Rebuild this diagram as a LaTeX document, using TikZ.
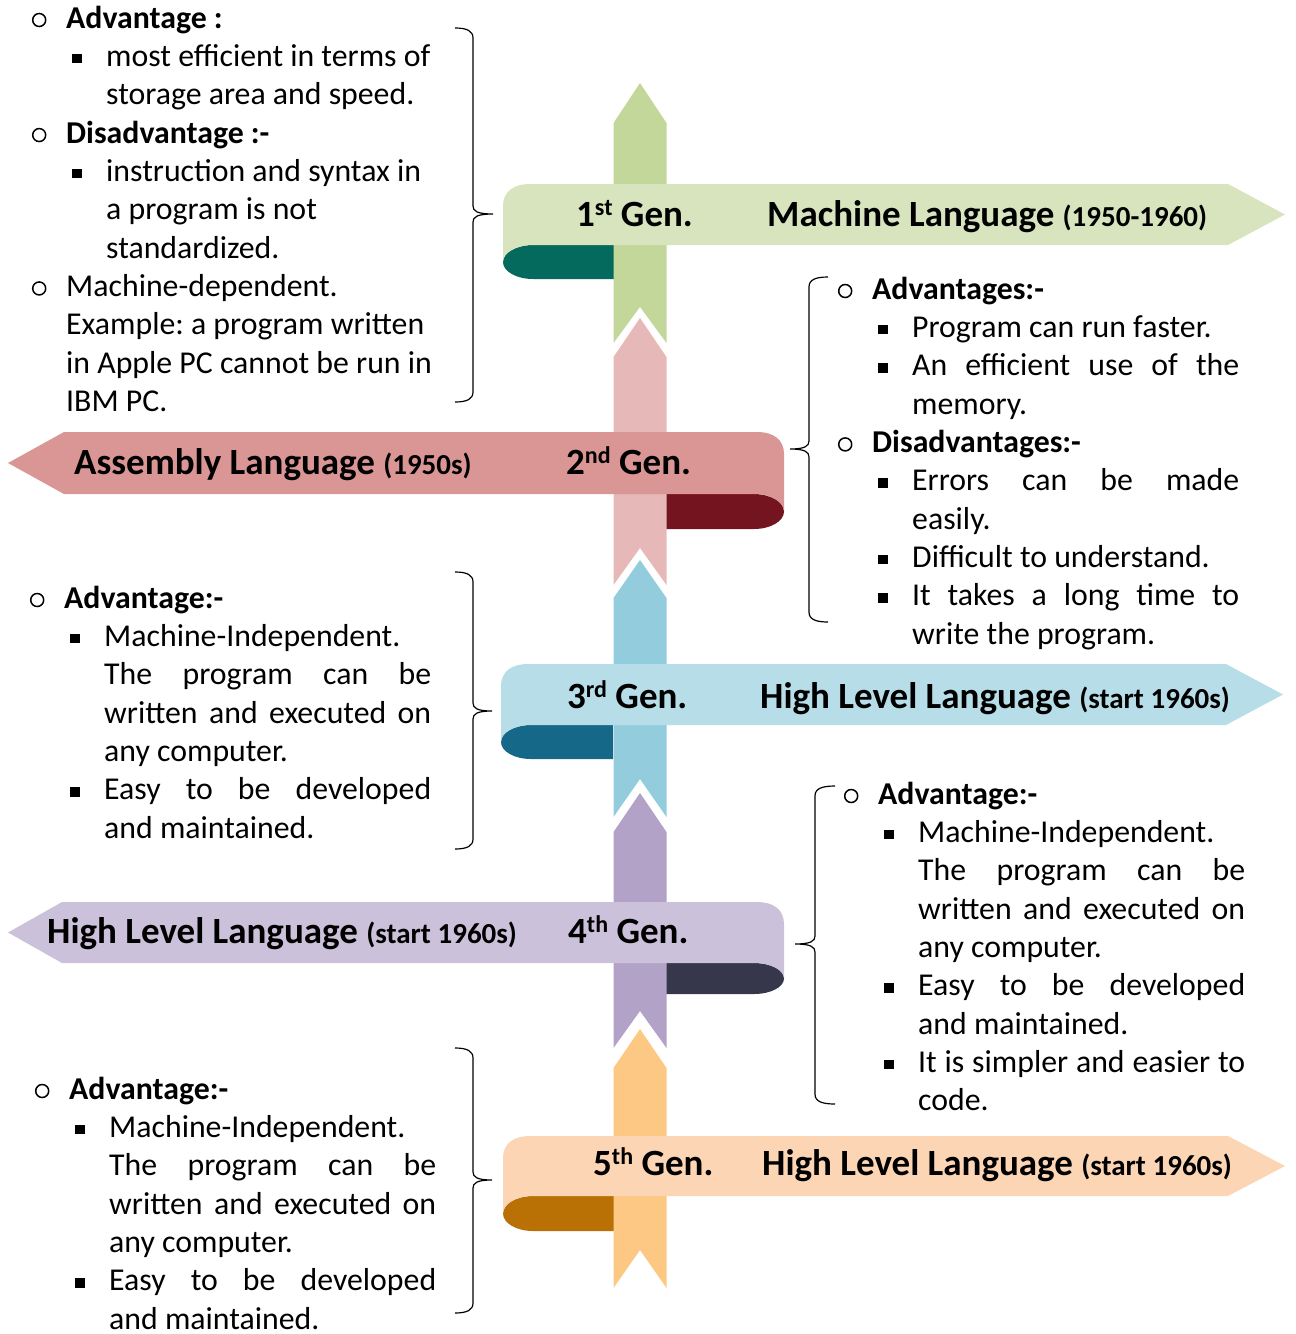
\documentclass[tikz,border=0pt]{standalone}
\usepackage{fontspec}
\setmainfont{Carlito}

% ribbon colours: column, band, fold
\definecolor{cA}{HTML}{C4D79B}\definecolor{bA}{HTML}{D7E4BD}\definecolor{fA}{HTML}{046A5E}
\definecolor{cB}{HTML}{E6B9B8}\definecolor{bB}{HTML}{D99694}\definecolor{fB}{HTML}{74141E}
\definecolor{cC}{HTML}{93CDDD}\definecolor{bC}{HTML}{B7DEE8}\definecolor{fC}{HTML}{166889}
\definecolor{cD}{HTML}{B3A2C7}\definecolor{bD}{HTML}{CCC1DA}\definecolor{fD}{HTML}{37374B}
\definecolor{cE}{HTML}{FCC883}\definecolor{bE}{HTML}{FCD5B5}\definecolor{fE}{HTML}{B97105}

% bullets and list lines
\newcommand\circb{\tikz[baseline=-8pt]\draw[line width=1.5pt] (0,0) circle (6.5pt);}
\newcommand\sqb{\rule[3pt]{9.5pt}{9.5pt}}
\newcommand\Lone[1]{\hbox{\llap{\makebox[54pt]{\circb}}#1}}
\newcommand\Ltwo[1]{\hbox{\hskip40pt\llap{\makebox[58pt]{\sqb}}#1}}
\newcommand\Ltc[1]{\hbox{\hskip40pt #1}}
\newcommand\Lc[1]{\hbox{#1}}
\newcommand\J[1]{\makebox[327pt][s]{#1}}
\newcommand\blk[1]{\vtop{\frenchspacing\baselineskip=38.35pt\lineskiplimit=-50pt\lineskip=0pt #1}}
\newcommand\supx[1]{\raisebox{11pt}{\fontsize{24}{24}\selectfont #1}}
\newcommand\yr[1]{{\fontsize{29}{30}\selectfont #1}}

% curly brackets
\newcommand\rbr[6]{\draw[brace] (#1,#4) .. controls ({#2-6},#4) and (#2,{#4+3}) .. (#2,{#4+10}) -- (#2,{#5-8}) .. controls (#2,{#5-3}) and ({#2+4},#5) .. (#3,#5) .. controls ({#2+4},#5) and (#2,{#5+3}) .. (#2,{#5+8}) -- (#2,{#6-10}) .. controls (#2,{#6-3}) and ({#2-6},#6) .. (#1,#6);}
\newcommand\lbr[6]{\draw[brace] (#1,#4) .. controls ({#2+6},#4) and (#2,{#4+3}) .. (#2,{#4+10}) -- (#2,{#5-8}) .. controls (#2,{#5-3}) and ({#2-4},#5) .. (#3,#5) .. controls ({#2-4},#5) and (#2,{#5+3}) .. (#2,{#5+8}) -- (#2,{#6-10}) .. controls (#2,{#6-3}) and ({#2+6},#6) .. (#1,#6);}

\tikzset{
  body/.style={anchor=base west, inner sep=0pt, font=\fontsize{31.8}{38.35}\selectfont},
  ttl/.style={anchor=base west, inner sep=0pt, font=\fontsize{37}{40}\selectfont\bfseries},
  brace/.style={draw=black, line width=1.2pt},
}

\begin{document}
\begin{tikzpicture}[x=1pt,y=-1pt]
\useasboundingbox (0,0) rectangle (1296,1334);

% ---------- 1st generation ----------
\fill[fA] (614,245) -- (533,245) .. controls (516.4,245) and (503,252.6) .. (503,262) .. controls (503,271.4) and (516.4,279) .. (533,279) -- (614,279) -- cycle;
\fill[cA] (613.5,123) -- (640,83) -- (666.5,123) -- (666.5,343) -- (640,307) -- (613.5,343) -- cycle;
\fill[bA] (503,262) -- (503,206) .. controls (503,192) and (513,184) .. (530,184) -- (1228,184) -- (1285,214.5) -- (1228,245) -- (533,245) .. controls (516.4,245) and (503,252.6) .. (503,262) -- cycle;
\node[ttl] (g1) at (576,226) {1\supx{st} Gen.};
\node[ttl] (n1) at (767,226) {Machine Language \yr{(1950-1960)}};

% ---------- 2nd generation ----------
\fill[fB] (662,494) -- (754,494) .. controls (770.6,494) and (784,501.8) .. (784,511.5) .. controls (784,521.2) and (770.6,529) .. (754,529) -- (662,529) -- cycle;
\fill[cB] (613.5,357) -- (640,318) -- (666.5,357) -- (666.5,585) -- (640,548) -- (613.5,585) -- cycle;
\fill[bB] (784,511.5) -- (784,454) .. controls (784,440) and (774,432) .. (757,432) -- (64,432) -- (8,463) -- (64,494) -- (754,494) .. controls (770.6,494) and (784,501.8) .. (784,511.5) -- cycle;
\node[ttl] (n2) at (74,474) {Assembly Language \yr{(1950s)}};
\node[ttl] (g2) at (566,474) {2\supx{nd} Gen.};

% ---------- 3rd generation ----------
\fill[fC] (613,725) -- (531,725) .. controls (514.4,725) and (501,732.6) .. (501,742) .. controls (501,751.4) and (514.4,759) .. (531,759) -- (613,759) -- cycle;
\fill[cC] (613.5,598) -- (640,560) -- (666.5,598) -- (666.5,817) -- (640,779) -- (613.5,817) -- cycle;
\fill[bC] (501,742) -- (501,686) .. controls (501,672) and (511,664) .. (528,664) -- (1226,664) -- (1283,694.5) -- (1226,725) -- (531,725) .. controls (514.4,725) and (501,732.6) .. (501,742) -- cycle;
\node[ttl] (g3) at (567,708) {3\supx{rd} Gen.};
\node[ttl] (n3) at (760,708) {High Level Language \yr{(start 1960s)}};

% ---------- 4th generation ----------
\fill[fD] (663,963) -- (754,963) .. controls (770.6,963) and (784,969.9) .. (784,978.5) .. controls (784,987.1) and (770.6,994) .. (754,994) -- (663,994) -- cycle;
\fill[cD] (613.5,832) -- (640,793) -- (666.5,832) -- (666.5,1048) -- (640,1011) -- (613.5,1048) -- cycle;
\fill[bD] (784,978.5) -- (784,924) .. controls (784,910) and (774,902) .. (757,902) -- (62,902) -- (8,932.5) -- (62,963) -- (754,963) .. controls (770.6,963) and (784,969.9) .. (784,978.5) -- cycle;
\node[ttl] (n4) at (47,943) {High Level Language \yr{(start 1960s)}};
\node[ttl] (g4) at (568,943) {4\supx{th} Gen.};

% ---------- 5th generation ----------
\fill[fE] (614,1196) -- (533,1196) .. controls (516.4,1196) and (503,1203.8) .. (503,1213.5) .. controls (503,1223.2) and (516.4,1231) .. (533,1231) -- (614,1231) -- cycle;
\fill[cE] (613.5,1068) -- (640,1029) -- (666.5,1068) -- (666.5,1288) -- (640,1250) -- (613.5,1288) -- cycle;
\fill[bE] (503,1213.5) -- (503,1158) .. controls (503,1144) and (513,1136) .. (530,1136) -- (1228,1136) -- (1285,1166) -- (1228,1196) -- (533,1196) .. controls (516.4,1196) and (503,1203.8) .. (503,1213.5) -- cycle;
\node[ttl] (g5) at (593,1175) {5\supx{th} Gen.};
\node[ttl] (n5) at (762,1175) {High Level Language \yr{(start 1960s)}};

% ---------- brackets ----------
\rbr{455}{473}{493}{28}{214}{402}
\lbr{828}{809}{790}{277}{449}{622}
\rbr{455}{473}{492}{572}{711}{849}
\lbr{835}{815}{795}{786}{944}{1104}
\rbr{455}{473}{492}{1048}{1180}{1313}

% ---------- notes ----------
\node[body] (t1) at (66,28) {\blk{%
  \Lone{\textbf{Advantage :}}
  \Ltwo{most efficient in terms of}
  \Ltc{storage area and speed.}
  \Lone{\textbf{Disadvantage :-}}
  \Ltwo{instruction and syntax in}
  \Ltc{a program is not}
  \Ltc{standardized.}
  \Lone{Machine-dependent.}
  \Lc{Example: a program written}
  \Lc{in Apple PC cannot be run in}
  \Lc{IBM PC.}}};

\node[body] (t2) at (872,299) {\blk{%
  \Lone{\textbf{Advantages:-}}
  \Ltwo{Program can run faster.}
  \Ltwo{\J{An efficient use of the}}
  \Ltc{memory.}
  \Lone{\textbf{Disadvantages:-}}
  \Ltwo{\J{Errors can be made}}
  \Ltc{easily.}
  \Ltwo{Difficult to understand.}
  \Ltwo{\J{It takes a long time to}}
  \Ltc{write the program.}}};

\node[body] (t3) at (64,608) {\blk{%
  \Lone{\textbf{Advantage:-}}
  \Ltwo{Machine-Independent.}
  \Ltc{\J{The program can be}}
  \Ltc{\J{written and executed on}}
  \Ltc{any computer.}
  \Ltwo{\J{Easy to be developed}}
  \Ltc{and maintained.}}};

\node[body] (t4) at (878,804) {\blk{%
  \Lone{\textbf{Advantage:-}}
  \Ltwo{Machine-Independent.}
  \Ltc{\J{The program can be}}
  \Ltc{\J{written and executed on}}
  \Ltc{any computer.}
  \Ltwo{\J{Easy to be developed}}
  \Ltc{and maintained.}
  \Ltwo{\J{It is simpler and easier to}}
  \Ltc{code.}}};

\node[body] (t5) at (69,1099) {\blk{%
  \Lone{\textbf{Advantage:-}}
  \Ltwo{Machine-Independent.}
  \Ltc{\J{The program can be}}
  \Ltc{\J{written and executed on}}
  \Ltc{any computer.}
  \Ltwo{\J{Easy to be developed}}
  \Ltc{and maintained.}}};
\end{tikzpicture}
\end{document}
